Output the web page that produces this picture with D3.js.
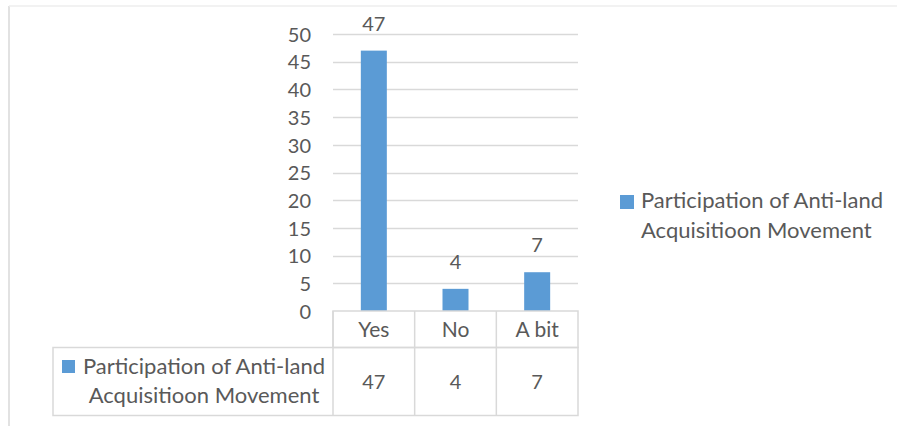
<!DOCTYPE html>
<html>
<head>
<meta charset="utf-8">
<script src="https://cdn.jsdelivr.net/npm/d3@7"></script>
<style>
  html, body { margin: 0; padding: 0; background: #fff; }
  svg { display: block; }
  text { font-family: Lato, "Open Sans", sans-serif; fill: #595959; }
</style>
</head>
<body>
<svg id="chart" width="897" height="426"></svg>
<script>
// Survey answers and counts
const categories = ["Yes", "No", "A bit"];
const values = [47, 4, 7];
const seriesName = ["Participation of Anti-land", "Acquisitioon Movement"];
const yTicks = [0, 5, 10, 15, 20, 25, 30, 35, 40, 45, 50];

const W = 897, H = 426;
const barColor = "#5B9BD5";
const gridColor = "#d9d9d9";
const numSize = 20;   // digits
const labelSize = 21; // category labels
const textSize = 22;  // series name

const svg = d3.select("#chart");

// chart frame
svg.append("line").attr("x1", 9).attr("x2", 9).attr("y1", 6).attr("y2", H)
  .attr("stroke", "#d9d9d9").attr("stroke-width", 1.5);
svg.append("line").attr("x1", 9).attr("x2", W).attr("y1", 6).attr("y2", 6)
  .attr("stroke", "#eeeeee").attr("stroke-width", 1.5);

const plot = { left: 333, right: 578, top: 34, bottom: 311 };

const x = d3.scaleBand().domain(categories).range([plot.left, plot.right]).paddingInner(0).paddingOuter(0);
const y = d3.scaleLinear().domain([0, 50]).range([plot.bottom, plot.top]);

// horizontal gridlines
svg.append("g").selectAll("line").data(yTicks.filter(d => d > 0)).join("line")
  .attr("x1", plot.left).attr("x2", plot.right)
  .attr("y1", d => Math.round(y(d)) + 0.5).attr("y2", d => Math.round(y(d)) + 0.5)
  .attr("stroke", gridColor).attr("stroke-width", 1.5);

// y axis labels
const yAxis = d3.axisLeft(y).tickValues(yTicks).tickSize(0).tickPadding(0);
const yg = svg.append("g").attr("transform", `translate(${plot.left - 22},0)`).call(yAxis);
yg.select(".domain").remove();
yg.selectAll("text").style("font-family", "Lato, sans-serif").style("font-size", numSize + "px")
  .attr("fill", "#595959").attr("dy", "0.36em");

// bars
const barW = 26;
svg.append("g").selectAll("rect").data(values).join("rect")
  .attr("x", (d, i) => x(categories[i]) + x.bandwidth() / 2 - barW / 2)
  .attr("width", barW)
  .attr("y", d => y(d))
  .attr("height", d => y(0) - y(d))
  .attr("fill", barColor);

// value labels above bars
svg.append("g").selectAll("text").data(values).join("text")
  .attr("x", (d, i) => x(categories[i]) + x.bandwidth() / 2)
  .attr("y", d => y(d) - 20)
  .attr("text-anchor", "middle")
  .style("font-size", numSize + "px")
  .text(d => d);

// data table below the plot
const row1 = { top: 311, bottom: 347.5 };
const row2 = { top: 347.5, bottom: 415.5 };
const tableLeft = 53;
const tg = svg.append("g").attr("fill", "none").attr("stroke", gridColor).attr("stroke-width", 1.5);
// header row
tg.append("rect").attr("x", plot.left).attr("y", row1.top)
  .attr("width", plot.right - plot.left).attr("height", row1.bottom - row1.top);
// data row
tg.append("rect").attr("x", tableLeft).attr("y", row2.top)
  .attr("width", plot.right - tableLeft).attr("height", row2.bottom - row2.top);
// column separators
tg.selectAll("line.sep").data(categories).join("line")
  .attr("class", "sep")
  .attr("x1", d => x(d)).attr("x2", d => x(d))
  .attr("y1", row1.top).attr("y2", row2.bottom);

// category labels
svg.append("g").selectAll("text").data(categories).join("text")
  .attr("x", d => x(d) + x.bandwidth() / 2)
  .attr("y", 337)
  .attr("text-anchor", "middle")
  .style("font-size", labelSize + "px")
  .text(d => d);

// table values
svg.append("g").selectAll("text").data(values).join("text")
  .attr("x", (d, i) => x(categories[i]) + x.bandwidth() / 2)
  .attr("y", 389)
  .attr("text-anchor", "middle")
  .style("font-size", numSize + "px")
  .text(d => d);

// series key inside the table
const keyCx = 204;
svg.append("rect").attr("x", 62).attr("y", 360).attr("width", 13).attr("height", 13).attr("fill", barColor);
svg.append("text").attr("x", keyCx).attr("y", 374).attr("text-anchor", "middle")
  .style("font-size", textSize + "px").text(seriesName[0]);
svg.append("text").attr("x", keyCx).attr("y", 403).attr("text-anchor", "middle")
  .style("font-size", textSize + "px").text(seriesName[1]);

// legend on the right
svg.append("rect").attr("x", 620).attr("y", 195).attr("width", 14).attr("height", 14).attr("fill", barColor);
svg.append("text").attr("x", 641).attr("y", 208)
  .style("font-size", textSize + "px").text(seriesName[0]);
svg.append("text").attr("x", 641).attr("y", 238)
  .style("font-size", textSize + "px").text(seriesName[1]);
</script>
</body>
</html>
